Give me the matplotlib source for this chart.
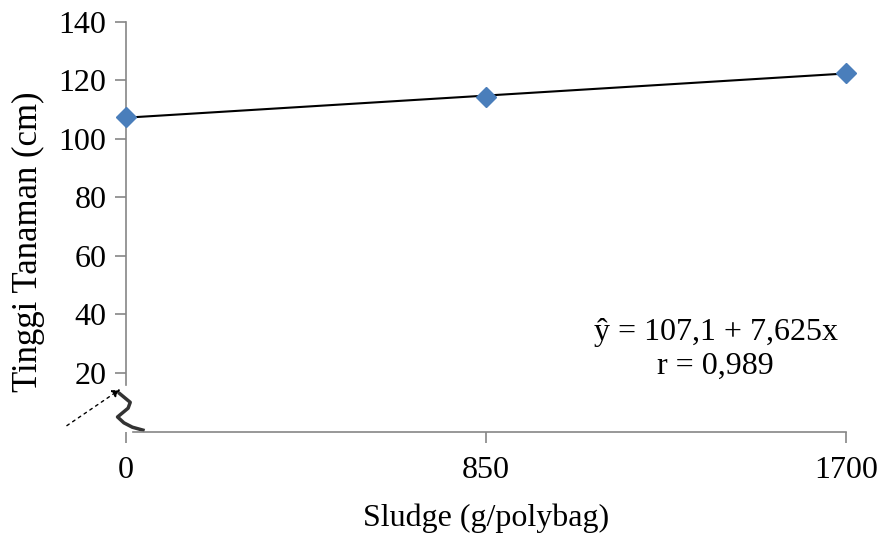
import matplotlib
matplotlib.use('Agg')
import matplotlib.pyplot as plt
import numpy as np

# --- data ---
sludge = [0, 850, 1700]
tinggi = [107.5, 114.2, 122.6]
x_ticks = [0, 850, 1700]
y_ticks = [20, 40, 60, 80, 100, 120, 140]
eq_text = 'ŷ = 107,1 + 7,625x\nr = 0,989'

plt.rcParams['font.family'] = ['Liberation Serif', 'DejaVu Serif']
axis_grey = '#868686'

fig = plt.figure(figsize=(8.85, 5.33), dpi=100)
ax = fig.add_axes([126 / 885, 1 - 431.6 / 533, 720 / 885, (431.6 - 21.7) / 533])

# regression line through the points
slope, icpt = np.polyfit(sludge, tinggi, 1)
xl = np.array([sludge[0], sludge[-1]])
ax.plot(xl, icpt + slope * xl, color='black', lw=1.5, zorder=2)
ax.plot(sludge, tinggi, 'D', color='#4A7EBB', ms=10, mec='#4A7EBB', zorder=3,
        clip_on=False)

ax.set_xlim(0, 1700)
ax.set_ylim(0, 140)
ax.set_xticks(x_ticks)
ax.set_yticks(y_ticks)
ax.tick_params(labelsize=23, color=axis_grey, width=1.2, length=8, direction='out')
ax.tick_params(axis='x', pad=9.5)
ax.tick_params(axis='y', pad=6)

for s in ['top', 'right']:
    ax.spines[s].set_visible(False)
for s in ['left', 'bottom']:
    ax.spines[s].set_color(axis_grey)
    ax.spines[s].set_linewidth(1.2)
ax.spines['left'].set_bounds(16, 140)
ax.spines['bottom'].set_bounds(17, 1700)

ax.set_xlabel('Sludge (g/polybag)', fontsize=23, labelpad=13.5)
ax.set_ylabel('Tinggi Tanaman (cm)', fontsize=25)
ax.yaxis.set_label_coords(-0.112, 0.4626)

ax.text(0.819, 0.20, eq_text, transform=ax.transAxes, fontsize=23,
        ha='center', va='center', linespacing=1.2)

# axis break mark in the lower-left corner
ax.annotate('', xy=(-8, 15), xytext=(-145, 1.5), xycoords='data',
            arrowprops=dict(arrowstyle='-|>', ls=(0, (2, 3)), color='black',
                            lw=1, mutation_scale=12), annotation_clip=False)
zig_x = [-15, 10, 5, -20, -5, 15, 40]
zig_y = [13, 10, 8, 5, 3, 1.5, 0.5]
ax.plot(zig_x, zig_y, color='#333333', lw=2.5, clip_on=False, zorder=1)

fig.savefig('out.png', dpi=100)
